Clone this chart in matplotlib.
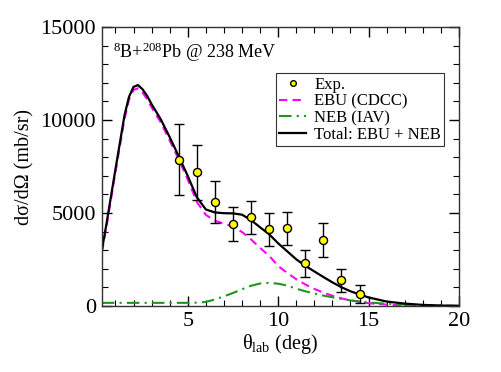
import matplotlib
matplotlib.use('Agg')
import matplotlib.pyplot as plt

plt.rcParams['font.family'] = ['Liberation Serif', 'DejaVu Serif']
plt.rcParams['mathtext.fontset'] = 'custom'
plt.rcParams['mathtext.rm'] = 'Liberation Serif'
plt.rcParams['mathtext.it'] = 'Liberation Serif:italic'

# experimental data
exp_theta = [4.5, 5.5, 6.5, 7.5, 8.5, 9.5, 10.5, 11.5, 12.5, 13.5, 14.5]
exp_xs = [7870, 7190, 5575, 4425, 4770, 4120, 4170, 2290, 3550, 1380, 645]
exp_err = [1900, 1480, 1130, 915, 900, 870, 890, 720, 930, 630, 480]

# calculations
theta = [0.25, 0.5, 1.0, 1.5, 1.75, 2.0, 2.25, 2.5, 2.75, 3.0, 3.5, 4.0, 4.5,
         5.0, 5.5, 6.0, 6.5, 7.0, 7.5, 8.0, 8.5, 9.0, 9.5, 10.0, 10.5, 11.0,
         11.5, 12.0, 12.5, 13.0, 13.5, 14.0, 15.0, 16.0, 17.0, 18.0, 19.0, 20.0]
total = [3000, 4400, 7350, 10250, 11250, 11780, 11880, 11650, 11300, 10850,
         10050, 9080, 8050, 6990, 5850, 5190, 5030, 4990, 4980, 4910, 4620,
         4230, 3860, 3370, 2940, 2510, 2160, 1860, 1560, 1270, 1010, 790, 460,
         240, 130, 60, 25, 10]
ebu = [2900, 4250, 7200, 10050, 11100, 11620, 11700, 11480, 11120, 10680,
       9880, 8900, 7880, 6800, 5600, 4900, 4580, 4430, 4270, 3980, 3580, 3120,
       2700, 2150, 1780, 1440, 1160, 920, 720, 550, 410, 300, 150, 75, 35, 15,
       5, 2]
neb = [170, 170, 170, 170, 170, 170, 170, 170, 170, 170, 170, 170, 170, 170,
       180, 220, 350, 520, 700, 900, 1090, 1210, 1250, 1200, 1100, 930, 790,
       680, 560, 470, 380, 300, 190, 120, 80, 40, 20, 10]

fig = plt.figure(figsize=(5.02, 3.72), dpi=100)
ax = fig.add_axes([0.2026, 0.1774, 0.7117, 0.75])

ax.errorbar(exp_theta, exp_xs, yerr=exp_err, fmt='none', ecolor='black',
            capsize=3.5, elinewidth=1.0, capthick=1.0, zorder=4)
ax.plot(exp_theta, exp_xs, 'o', mfc='#FFFF00', mec='black', mew=1.0,
        ms=5.8, label='Exp.', zorder=5)
ax.plot(theta, ebu, color='#FF00FF', ls=(0, (4, 2.5)), lw=1.5,
        label='EBU (CDCC)')
ax.plot(theta, neb, color='#1E961E', ls=(0, (6, 2.5, 1, 2.5)), lw=1.5,
        label='NEB (IAV)')
ax.plot(theta, total, color='black', lw=1.6, label='Total: EBU + NEB')

ax.set_xlim(0.24, 20)
ax.set_ylim(0, 15000)
ax.set_xticks([5, 10, 15, 20])
ax.set_xticks(range(1, 21), minor=True)
ax.set_yticks([0, 5000, 10000, 15000])
ax.set_yticks(range(0, 15001, 1000), minor=True)
ax.tick_params(which='both', direction='in', top=True, right=True,
               labelsize=16)
ax.tick_params(which='major', length=7, width=1.0, pad=4)
ax.tick_params(which='minor', length=4, width=0.8)
for s in ax.spines.values():
    s.set_linewidth(1.0)
    s.set_color('#333333')

ax.set_xlabel(r'θ$_{\mathrm{lab}}$ (deg)', fontsize=14.5, labelpad=1)
ax.set_ylabel('dσ/dΩ (mb/sr)', fontsize=14.5, labelpad=4)

ax.text(0.032, 0.91, r'$^{8}$B+$^{208}$Pb @ 238 MeV', transform=ax.transAxes,
        fontsize=13, ha='left', va='center')

leg = ax.legend(loc='upper right', bbox_to_anchor=(0.959, 0.834),
                fontsize=12, frameon=True, fancybox=False, handlelength=1.6,
                handletextpad=0.5, borderpad=0.2, labelspacing=0.05,
                borderaxespad=0, markerscale=0.7)
leg.get_frame().set_edgecolor('black')
leg.get_frame().set_linewidth(0.8)

fig.savefig('out.png', dpi=100)
